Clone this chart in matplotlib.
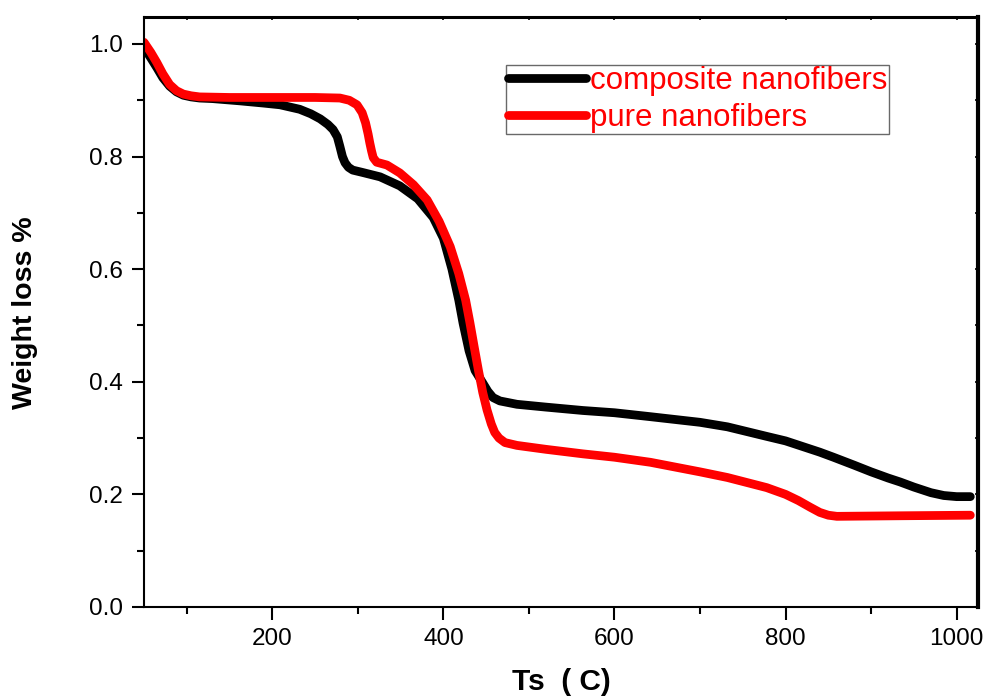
import matplotlib.pyplot as plt
from matplotlib.ticker import MultipleLocator

plt.rcParams["font.family"] = ["Liberation Sans", "DejaVu Sans"]

# temperature (C) and weight fraction
composite_t = [50, 58, 65, 72, 80, 88, 96, 105, 115, 130, 162, 190, 209, 232,
               245, 256, 265, 271, 276, 279, 282, 285, 289, 294, 305, 326, 349,
               370, 388, 400, 410, 418, 423, 430, 437, 446, 452, 458, 466, 476,
               486, 520, 563, 600, 642, 700, 732, 778, 800, 820, 840, 856, 880,
               900, 920, 934, 950, 970, 985, 1000, 1016]
composite_w = [0.994, 0.975, 0.958, 0.940, 0.925, 0.915, 0.909, 0.906, 0.904,
               0.903, 0.899, 0.895, 0.892, 0.884, 0.876, 0.867, 0.857, 0.848,
               0.835, 0.818, 0.800, 0.789, 0.781, 0.776, 0.772, 0.764, 0.748,
               0.725, 0.692, 0.655, 0.600, 0.545, 0.504, 0.455, 0.420, 0.398,
               0.383, 0.372, 0.366, 0.363, 0.360, 0.355, 0.349, 0.345, 0.338,
               0.328, 0.320, 0.303, 0.295, 0.285, 0.275, 0.266, 0.252, 0.240,
               0.229, 0.222, 0.213, 0.203, 0.198, 0.196, 0.196]

pure_t = [50, 58, 65, 72, 80, 88, 96, 105, 115, 150, 200, 250, 279, 290, 299,
          305, 309, 312, 314, 316, 318, 322, 334, 349, 365, 381, 395, 408, 418,
          426, 431, 436, 441, 446, 451, 456, 460, 465, 472, 486, 520, 563, 600,
          642, 700, 732, 778, 800, 815, 829, 840, 850, 860, 934, 1016]
pure_w = [1.003, 0.985, 0.967, 0.947, 0.928, 0.917, 0.911, 0.908, 0.906, 0.905,
          0.905, 0.905, 0.904, 0.900, 0.892, 0.878, 0.860, 0.840, 0.824, 0.810,
          0.798, 0.790, 0.785, 0.771, 0.750, 0.723, 0.685, 0.640, 0.592, 0.545,
          0.505, 0.462, 0.420, 0.381, 0.350, 0.325, 0.310, 0.300, 0.292, 0.287,
          0.280, 0.272, 0.266, 0.257, 0.240, 0.230, 0.212, 0.200, 0.189, 0.177,
          0.168, 0.163, 0.161, 0.162, 0.163]

fig = plt.figure(figsize=(9.87, 6.98), dpi=100)
ax = fig.add_axes([0.1459, 0.1304, 0.845, 0.8453])

ax.plot(composite_t, composite_w, color="black", lw=6.3,
        solid_capstyle="round", solid_joinstyle="round",
        label="composite nanofibers")
ax.plot(pure_t, pure_w, color="#ff0000", lw=6.3,
        solid_capstyle="round", solid_joinstyle="round",
        label="pure nanofibers")

ax.set_xlim(50, 1025)
ax.set_ylim(0, 1.048)
ax.xaxis.set_major_locator(MultipleLocator(200))
ax.xaxis.set_minor_locator(MultipleLocator(100))
ax.yaxis.set_major_locator(MultipleLocator(0.2))
ax.yaxis.set_minor_locator(MultipleLocator(0.1))
ax.yaxis.set_major_formatter(lambda v, p: f"{v:.1f}")

ax.tick_params(which="major", direction="out", length=9, width=1.5,
               labelsize=17.5, pad=6)
ax.tick_params(which="minor", direction="out", length=5, width=1.5)

ax.spines["left"].set_linewidth(1.5)
ax.spines["bottom"].set_linewidth(1.5)
ax.spines["top"].set_linewidth(2.2)
ax.spines["right"].set_linewidth(3)

# small inward ticks on the top and right frame
top = ax.secondary_xaxis("top")
top.xaxis.set_major_locator(MultipleLocator(100))
top.tick_params(direction="in", length=2.5, width=1.2, labeltop=False)
top.spines["top"].set_visible(False)
right = ax.secondary_yaxis("right")
right.yaxis.set_major_locator(MultipleLocator(0.1))
right.tick_params(direction="in", length=2.5, width=1.2, labelright=False)
right.spines["right"].set_visible(False)

ax.set_xlabel("Ts  ( C)", fontsize=21.5, fontweight="bold")
ax.set_ylabel("Weight loss %", fontsize=20.5, fontweight="bold")
ax.xaxis.set_label_coords(0.5, -0.103)
ax.yaxis.set_label_coords(-0.127, 0.498)

leg = ax.legend(loc="upper left", bbox_to_anchor=(0.434, 0.919),
                fontsize=22.5, frameon=True, fancybox=False, borderpad=0.05,
                labelspacing=0.2, handlelength=2.5, handletextpad=0.15,
                borderaxespad=0)
leg.get_frame().set_edgecolor("#444444")
leg.get_frame().set_linewidth(1.0)
for txt in leg.get_texts():
    txt.set_color("#ff0000")

fig.savefig("out.png", dpi=100)
